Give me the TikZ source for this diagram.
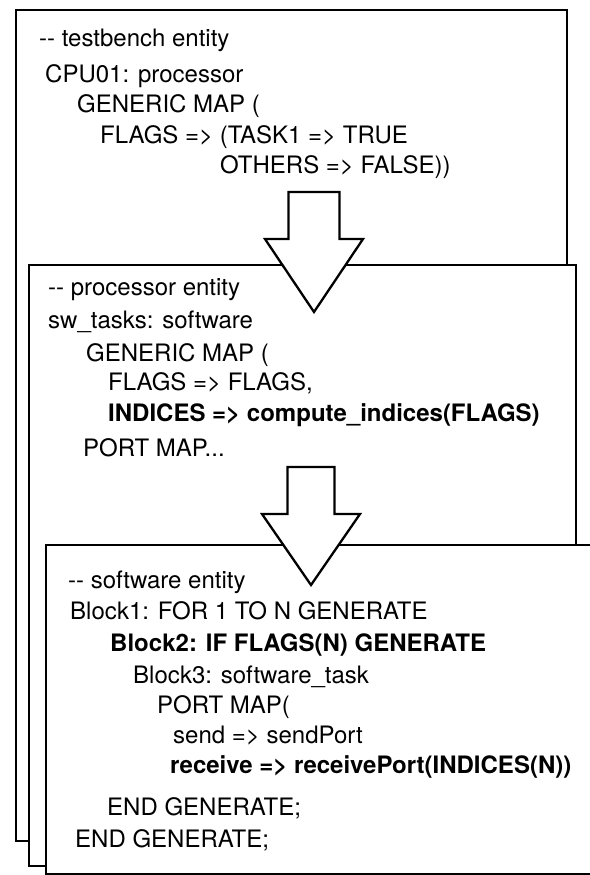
\documentclass[tikz,border=0pt]{standalone}
\usepackage{fontspec}
\setmainfont{TeX Gyre Heros}
\usetikzlibrary{calc}

\begin{document}
\begin{tikzpicture}[
  x=1pt, y=-1pt,
  entitybox/.style={draw, fill=white, line width=2.3pt, anchor=north west, inner sep=0pt},
  code/.style={anchor=base west, inner sep=0pt, font=\fontsize{24}{28}\selectfont},
  boldcode/.style={code, font=\fontsize{24}{28}\selectfont\bfseries},
  blockarr/.style={draw, fill=white, line width=2.3pt, line join=miter},
]
  \useasboundingbox (0,0) rectangle (589,875);

  % Testbench entity (back sheet)
  \node[entitybox, minimum width=551pt, minimum height=831pt] (testbench) at (15,9) {};
  \node[code] (tb1) at (39,47) {-{}- testbench entity};
  \node[code] (tb2) at (45,82) {CPU01: processor};
  \node[code] (tb3) at (77,112) {GENERIC MAP (};
  \node[code] (tb4) at (100,143) {FLAGS => (TASK1 => TRUE};
  \node[code] (tb5) at (220,173) {OTHERS => FALSE))};

  % Processor entity (middle sheet)
  \node[entitybox, minimum width=547pt, minimum height=601pt] (processor) at (28,264) {};
  \node[code] (pr1) at (48,295) {-{}- processor entity};
  \node[code] (pr2) at (48,328) {sw\_tasks: software};
  \node[code] (pr3) at (86,361) {GENERIC MAP (};
  \node[code] (pr4) at (108,390) {FLAGS => FLAGS,};
  \node[boldcode] (pr5) at (108,421) {INDICES => compute\_indices(FLAGS)};
  \node[code] (pr6) at (83,456) {PORT MAP...};

  % Software entity (front sheet, runs off the right edge)
  \node[entitybox, minimum width=560pt, minimum height=329pt] (software) at (45,544) {};
  \node[code] (sw1) at (68,588) {-{}- software entity};
  \node[code] (sw2) at (70,619) {Block1: FOR 1 TO N GENERATE};
  \node[boldcode] (sw3) at (110,651) {Block2: IF FLAGS(N) GENERATE};
  \node[code] (sw4) at (133,683) {Block3: software\_task};
  \node[code] (sw5) at (157,713) {PORT MAP(};
  \node[code] (sw6) at (173,743) {send => sendPort};
  \node[boldcode] (sw7) at (170,773) {receive => receivePort(INDICES(N))};
  \node[code] (sw8) at (107,815) {END GENERATE;};
  \node[code] (sw9) at (75,847) {END GENERATE;};

  % Block arrows between the sheets
  \coordinate (arr1tail) at (314,192);
  \coordinate (arr1tip) at (314,312);
  \draw[blockarr] ($(arr1tail)+(-25.5,0)$) -- ($(arr1tail)+(25.5,0)$)
    -- ($(arr1tail)+(25.5,47)$) -- ($(arr1tail)+(49,47)$) -- (arr1tip)
    -- ($(arr1tail)+(-49,47)$) -- ($(arr1tail)+(-25.5,47)$) -- cycle;

  \coordinate (arr2tail) at (311,467);
  \coordinate (arr2tip) at (311,585);
  \draw[blockarr] ($(arr2tail)+(-23.5,0)$) -- ($(arr2tail)+(23.5,0)$)
    -- ($(arr2tail)+(23.5,47)$) -- ($(arr2tail)+(49,47)$) -- (arr2tip)
    -- ($(arr2tail)+(-49,47)$) -- ($(arr2tail)+(-23.5,47)$) -- cycle;
\end{tikzpicture}
\end{document}
